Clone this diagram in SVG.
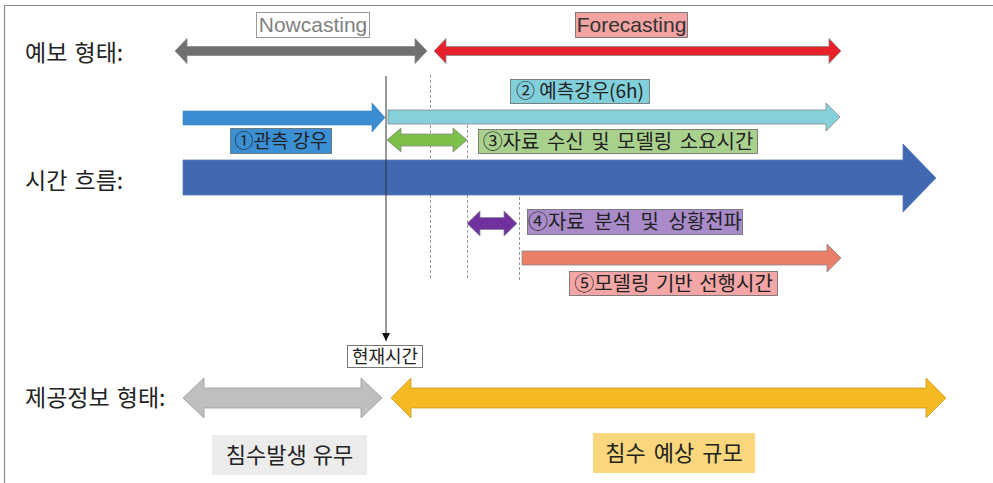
<svg xmlns="http://www.w3.org/2000/svg" width="993" height="483" viewBox="0 0 993 483">
<style>
.ttl{font-family:"Noto Sans CJK KR","Noto Sans",sans-serif;font-size:23px;fill:#222;word-spacing:2px}
.big{font-family:"Noto Sans CJK KR","Noto Sans",sans-serif;font-size:22px;fill:#222;text-anchor:middle}
.lbl{font-family:"Noto Sans CJK KR","Noto Sans",sans-serif;font-size:20px;fill:#222;text-anchor:middle;word-spacing:3px}
.en{font-family:"Liberation Sans","Noto Sans",sans-serif;font-size:21px;text-anchor:middle}
.box{stroke:#666;stroke-width:0.8}
.dash{stroke:#9a9a9a;stroke-width:1;stroke-dasharray:3 2;fill:none}
.arr{stroke:#888;stroke-width:0.8}
</style>
<defs>
<marker id="tip" viewBox="0 0 8 8" refX="8" refY="4" markerWidth="8" markerHeight="8" markerUnits="userSpaceOnUse" orient="auto">
<path d="M0,0 L8,4 L0,8 Z" fill="#111"/>
</marker>
</defs>
<rect x="0" y="0" width="993" height="483" fill="#fff"/>
<path d="M4.5,483 V5.5 H993" fill="none" stroke="#8a8a8a" stroke-width="1.2"/>

<g id="row-labels">
<text class="ttl" x="25" y="61">예보 형태:</text>
<text class="ttl" x="25" y="189">시간 흐름:</text>
<text class="ttl" x="25" y="406">제공정보 형태:</text>
</g>

<g id="guides">
<line class="dash" x1="430.5" y1="75" x2="430.5" y2="280"/>
<line class="dash" x1="467.5" y1="125" x2="467.5" y2="280"/>
<line class="dash" x1="519.5" y1="197" x2="519.5" y2="280"/>
</g>

<g id="nowcasting">
<polygon class="arr" fill="#707070" points="175,51 187,38.5 187,46.5 415,46.5 415,38.5 427,51 415,63.5 415,55.5 187,55.5 187,63.5"/>
<rect x="256.5" y="12.5" width="113" height="25" fill="#fff" stroke="#999"/>
<text class="en" x="313" y="32" fill="#808080">Nowcasting</text>
</g>

<g id="forecasting">
<polygon class="arr" fill="#e8202a" points="434,51 446,38.5 446,46.5 829,46.5 829,38.5 841,51 829,63.5 829,55.5 446,55.5 446,63.5"/>
<rect class="box" x="575.5" y="12.5" width="112" height="25" fill="#f4a3a3"/>
<text class="en" x="631.5" y="32" fill="#333">Forecasting</text>
</g>

<g id="obs-rain">
<polygon fill="#3b8dd1" stroke="#3a7fb8" stroke-width="0.6" points="183,111 372,111 372,103 385,117.5 372,132 372,125 183,125"/>
<rect class="box" x="230.5" y="128.5" width="101" height="25" fill="#3b8fd4"/>
<text class="lbl" x="281" y="148" style="font-size:19px;word-spacing:0">①관측 강우</text>
</g>

<g id="forecast-rain">
<polygon class="arr" fill="#86d0db" points="388,110 826,110 826,103 840,117 826,131 826,124 388,124"/>
<rect class="box" x="510.5" y="79.5" width="139" height="24" fill="#80cfdb"/>
<text class="lbl" x="580" y="98" style="font-size:19px;word-spacing:0">② 예측강우(6h)</text>
</g>

<g id="data-modeling">
<polygon class="arr" fill="#7cc04a" points="387,140 401,128 401,134 453,134 453,128 467,140 453,152 453,146 401,146 401,152"/>
<rect class="box" x="478.5" y="129.5" width="279" height="24" fill="#a9d18e"/>
<text class="lbl" x="618" y="148.5">③자료 수신 및 모델링 소요시간</text>
</g>

<g id="time-flow">
<polygon fill="#4169b2" stroke="#5a7ab8" stroke-width="0.8" points="183,160 903,160 903,144 936,178 903,212 903,195 183,195"/>
</g>

<g id="analysis">
<polygon class="arr" fill="#7030a0" points="467,223.5 480,211 480,217.5 504,217.5 504,211 517,223.5 504,236 504,229.5 480,229.5 480,236"/>
<rect class="box" x="527.5" y="209.5" width="215" height="25" fill="#a98bca"/>
<text class="lbl" x="635" y="229" style="word-spacing:5px">④자료 분석 및 상황전파</text>
</g>

<g id="lead-time">
<polygon class="arr" fill="#e97e69" points="522,251 827,251 827,244 841,258 827,272 827,265 522,265"/>
<rect class="box" x="569.5" y="271.5" width="208" height="24" fill="#f4a6a6"/>
<text class="lbl" x="673.5" y="290.5" style="word-spacing:2px">⑤모델링 기반 선행시간</text>
</g>

<g id="now">
<rect x="347.5" y="345.5" width="75" height="22" fill="#fff" stroke="#555" stroke-width="0.8"/>
<text class="lbl" x="385" y="363" style="font-size:18px;word-spacing:0">현재시간</text>
</g>

<g id="flood-occurrence">
<polygon stroke="#9a9a9a" stroke-width="0.8" fill="#bfbfbf" points="183,398 204,378 204,388 361,388 361,378 382,398 361,418 361,408 204,408 204,418"/>
<rect x="212" y="435" width="155" height="40" fill="#ececec"/>
<text class="big" x="289.5" y="463" style="word-spacing:1px">침수발생 유무</text>
</g>

<g id="flood-scale">
<polygon stroke="#c99a25" stroke-width="0.8" fill="#f5b922" points="391,398 411,378 411,388 926,388 926,378 946,398 926,418 926,408 411,408 411,418"/>
<rect x="593" y="433" width="162" height="40" fill="#fad67c"/>
<text class="big" x="674" y="461" style="word-spacing:3px">침수 예상 규모</text>
</g>

<g id="connectors">
<line x1="386" y1="76" x2="386" y2="341" stroke="#333" stroke-width="1" marker-end="url(#tip)"/>
</g>
</svg>
